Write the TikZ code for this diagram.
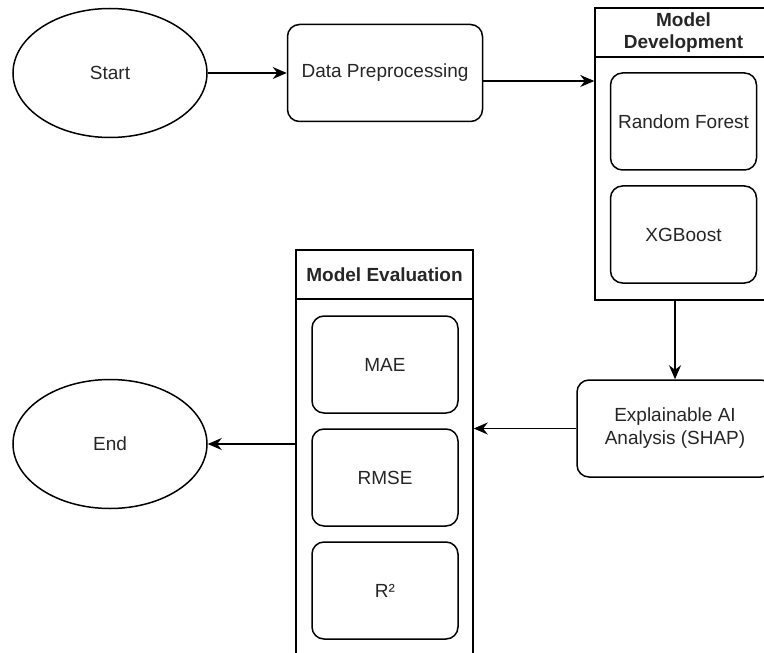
\documentclass[tikz,border=0pt]{standalone}
\usepackage{fontspec}
\setmainfont{Liberation Sans}
\usepackage{tikz}
\usetikzlibrary{shapes.geometric,arrows.meta,positioning,calc}

\begin{document}
\begin{tikzpicture}[
    x=0.5pt, y=-0.5pt,
    line width=0.75pt,
    every node/.style={font=\fontsize{9.5}{11.5}\selectfont, text=black!85},
    term/.style={ellipse, draw, minimum width=97pt, minimum height=64.5pt},
    proc/.style={rectangle, draw, rounded corners=6pt, align=center,
                 minimum width=73pt, minimum height=48.5pt},
    group/.style={rectangle, draw, minimum width=88.5pt},
    grouptitle/.style={rectangle, draw, align=center, minimum width=88.5pt,
                       minimum height=24.5pt, inner sep=1pt,
                       font=\fontsize{9.5}{11}\selectfont\bfseries},
    arr/.style={-{Stealth[length=7pt,width=6pt]}}
]
    \useasboundingbox (0,0) rectangle (764,652);
    \clip (0,0) rectangle (764,652);

    % start and preprocessing
    \node[term] (start) at (110,73) {Start};
    \node[proc, minimum width=97.5pt] (dp) at (385,73) {Data Preprocessing};

    % model development
    \node[group, minimum height=146pt] (md) at (683.5,154) {};
    \node[grouptitle] (mdtitle) at (683.5,32.5) {Model\\Development};
    \node[proc] (rf) at (683.5,121.5) {Random Forest};
    \node[proc] (xgb) at (683.5,234.5) {XGBoost};

    % explainability
    \node[proc, minimum width=98pt] (xai) at (675,428.5) {Explainable AI\\Analysis (SHAP)};

    % model evaluation
    \node[group, minimum height=215pt] (me) at (384.5,465) {};
    \node[grouptitle] (metitle) at (384.5,274.5) {Model Evaluation};
    \node[proc] (mae) at (385,364.5) {MAE};
    \node[proc] (rmse) at (385,477.5) {RMSE};
    \node[proc] (rsq) at (385,590.5) {R²};

    \node[term] (end) at (110,444) {End};

    % connectors
    \draw[arr] (start) -- (dp);
    \draw[arr] ([yshift=-4pt]dp.east) -- ([yshift=-4pt]dp.east -| md.west);
    \draw[arr] (xai.north |- md.south) -- (xai.north);
    \draw[arr] (xai.west) -- (xai.west -| me.east);
    \draw[arr] (me.west |- end.east) -- (end.east);
\end{tikzpicture}
\end{document}
